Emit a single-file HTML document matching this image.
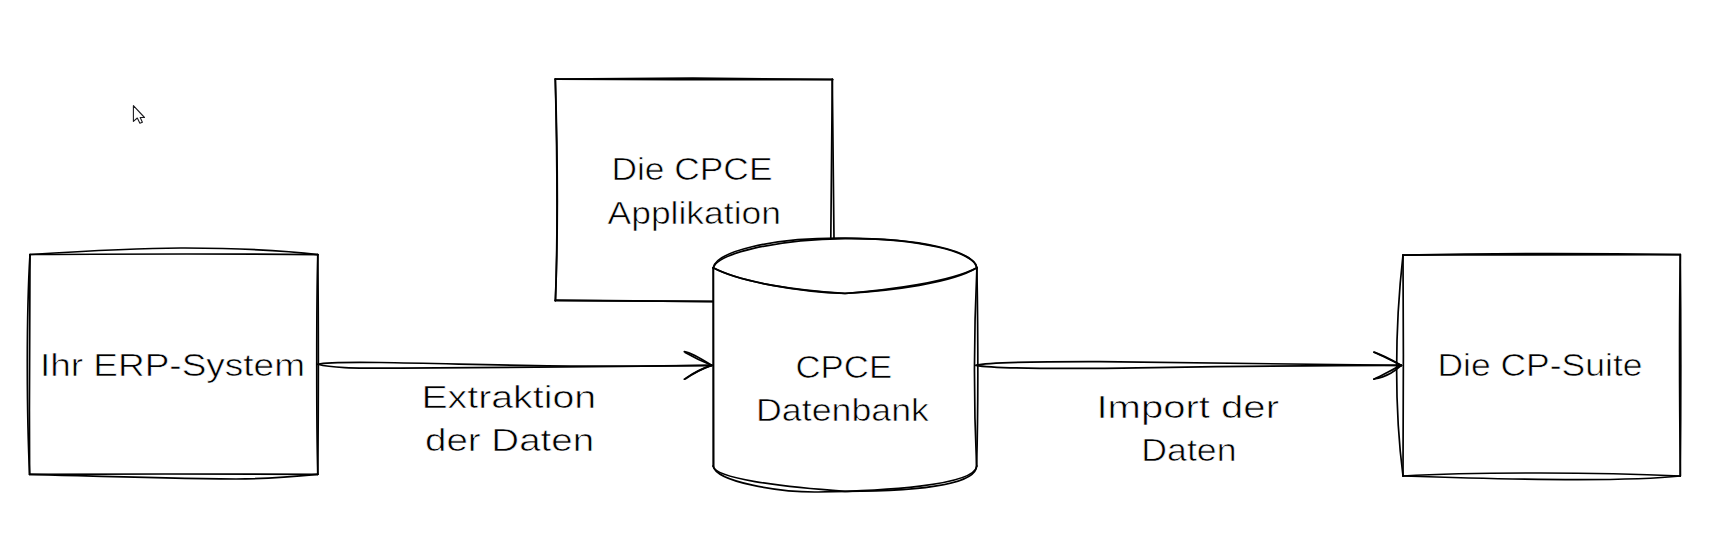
<!DOCTYPE html>
<html><head><meta charset="utf-8"><style>
html,body{margin:0;padding:0;background:#fff;width:1720px;height:543px;overflow:hidden}
svg{display:block}
text{font-family:"Liberation Sans",sans-serif;font-size:31px;fill:#000;stroke:#fff;stroke-width:0.6px}
</style></head><body>
<svg width="1720" height="543" viewBox="0 0 1720 543">

<g fill="none" stroke="#000" stroke-width="1.7" stroke-linecap="round" stroke-linejoin="round">
 <!-- ERP box -->
 <path d="M30 254.5 C120 254, 230 253.5, 317.8 254.7"/>
 <path d="M30 254.5 C100 250, 150 247.8, 185 248 C240 248.3, 290 251, 317.8 254.7"/>
 <path d="M317.8 254.7 C318.5 320, 318.5 400, 317.8 474.3"/>
 <path d="M317.8 254.7 C316.5 300, 316.3 420, 317.8 474.3"/>
 <path d="M317.8 474.3 C230 473.8, 120 474, 29.6 474.3"/>
 <path d="M317.8 474.3 C290 477, 260 479, 236 479 C150 478.5, 80 475.5, 29.6 474.3"/>
 <path d="M29.6 474.3 C29.2 400, 29.5 320, 30 254.5"/>
 <path d="M29.6 474.3 C27 420, 26 320, 30 254.5"/>
 <!-- App box -->
 <path d="M555.3 79.1 C620 78.5, 680 78, 693 78.2 C760 78.8, 800 79.3, 832.6 79.4"/>
 <path d="M555.3 79.1 C640 79.6, 760 80, 832.6 79.6"/>
 <path d="M832.3 79.4 C832 140, 831 200, 830.8 238.5"/>
 <path d="M832.3 79.4 C833 140, 834 200, 834 238.5"/>
 <path d="M555.3 79.1 C557.5 150, 558.5 230, 555.3 300.7"/>
 <path d="M555.3 79.1 C557 150, 558 230, 555.5 300.7"/>
 <path d="M555.3 300.7 C620 300.6, 680 301, 713.5 301.3"/>
 <path d="M555.3 300.2 C620 300.3, 680 301.6, 713.5 301.6"/>
 <!-- CP box -->
 <path d="M1403 255.1 C1500 254.5, 1600 254.3, 1680.3 254.7"/>
 <path d="M1403 255.1 C1500 253, 1600 253.2, 1680.3 254.7"/>
 <path d="M1680.3 254.7 C1681 330, 1681 400, 1680.3 476"/>
 <path d="M1680.3 254.7 C1679 330, 1679.5 400, 1680.3 476"/>
 <path d="M1680.3 476 C1600 472.5, 1480 471.5, 1403 476"/>
 <path d="M1680.3 476 C1630 481.5, 1520 480, 1403 476"/>
 <path d="M1403 476 C1403.5 400, 1403.5 330, 1403 255.1"/>
 <path d="M1403 476 C1394.5 410, 1394.5 330, 1403 255.1"/>
</g>
<g stroke="#000" stroke-width="1.7" stroke-linecap="round" stroke-linejoin="round">
 <!-- cylinder fill -->
 <path d="M713.2 267.8 C716 252, 770 237.4, 845 238.2 C920 238.6, 973 250, 976.9 267.8 L976.7 466 C976 485, 900 491.3, 845 491.3 C790 491.3, 714 485, 713.2 466 Z" fill="#fff" stroke="none"/>
 <g fill="none">
 <path d="M713.2 267.8 C716 252, 770 237.4, 845 238.2 C920 238.6, 973 250, 976.9 267.8"/>
 <path d="M713.2 267.8 C718 254, 772 239.6, 845 238.6 C918 237.8, 975 252, 976.9 267.8"/>
 <path d="M713.2 267.8 C740 282, 800 292, 845 293.5 C890 290, 950 282, 976.9 267.8"/>
 <path d="M713.2 267.8 C742 283, 800 291, 845 293.3 C892 291, 952 283, 976.9 267.8"/>
 <path d="M713.3 267.8 L713.3 466"/>
 <path d="M713.3 267.8 L713.6 466"/>
 <path d="M976.9 267.8 C977.8 320, 978.5 400, 976.6 466"/>
 <path d="M976.9 267.8 C974.5 320, 973.5 400, 976.6 466"/>
 <path d="M713.2 466 C714 478, 780 487, 845 491.3 C910 491.3, 976 486, 976.7 466"/>
 <path d="M713.2 466 C716 482, 780 492.5, 818 492 C880 491, 975 486, 976.7 466"/>
 </g>
</g>
<g fill="none" stroke="#000" stroke-width="1.7" stroke-linecap="round" stroke-linejoin="round">
 <!-- left arrow -->
 <path d="M318 364.3 C325 362.5, 340 362, 380 362.5 C450 363.5, 520 366, 600 366.2 C660 366.3, 700 365.6, 712 365.4"/>
 <path d="M318 364.3 C330 367.8, 350 368.2, 400 368.2 C480 368, 560 367, 620 366.5 C670 366, 700 365.6, 712 365.4"/>
 <path d="M684.3 351.6 C690 352.5, 697 356, 711.6 365.3"/>
 <path d="M685.2 352.6 C692 356.5, 702 361.5, 711.6 365.3"/>
 <path d="M684.3 379.2 C690 375.5, 697 370, 711.6 365.4"/>
 <path d="M685.6 378.8 C694 373, 703 368.5, 711.6 365.4"/>
 <!-- right arrow -->
 <path d="M976 365.3 C990 361.5, 1050 361.5, 1100 361.6 C1200 362, 1300 364.5, 1401.4 365.4"/>
 <path d="M976 365.3 C995 369, 1050 368.6, 1100 368.3 C1200 367, 1300 365.3, 1401.4 365.4"/>
 <path d="M1373.8 352.1 C1383 355, 1392 360, 1401.4 365.4"/>
 <path d="M1374.5 352.3 C1385 357.5, 1395 362, 1401.4 365.4"/>
 <path d="M1373.8 379.2 C1385 374, 1393 369, 1401.4 365.4"/>
 <path d="M1374 379 C1388 377, 1396 370, 1401.4 365.4"/>
</g>
<!-- cursor -->
<path d="M133.4 105.6 L133.4 121.4 L137.3 118 L139.9 123.3 L142.4 122.3 L140.2 117.5 L144.5 117.5 Z" fill="#fff" stroke="#1b1b1f" stroke-width="1.1" stroke-linejoin="round"/>

<text x="39.9" y="375.5" textLength="265.1" lengthAdjust="spacingAndGlyphs">Ihr ERP-System</text>
<text x="421.4" y="407.8" textLength="174.7" lengthAdjust="spacingAndGlyphs">Extraktion</text>
<text x="425.0" y="451.0" textLength="169.1" lengthAdjust="spacingAndGlyphs">der Daten</text>
<text x="611.4" y="179.6" textLength="161.1" lengthAdjust="spacingAndGlyphs">Die CPCE</text>
<text x="607.5" y="223.8" textLength="173.5" lengthAdjust="spacingAndGlyphs">Applikation</text>
<text x="795.5" y="377.8" textLength="96.6" lengthAdjust="spacingAndGlyphs">CPCE</text>
<text x="756.0" y="421.0" textLength="173.0" lengthAdjust="spacingAndGlyphs">Datenbank</text>
<text x="1096.4" y="417.8" textLength="182.6" lengthAdjust="spacingAndGlyphs">Import der</text>
<text x="1141.3" y="461.0" textLength="95.2" lengthAdjust="spacingAndGlyphs">Daten</text>
<text x="1437.4" y="375.5" textLength="205.1" lengthAdjust="spacingAndGlyphs">Die CP-Suite</text>
</svg>
</body></html>
